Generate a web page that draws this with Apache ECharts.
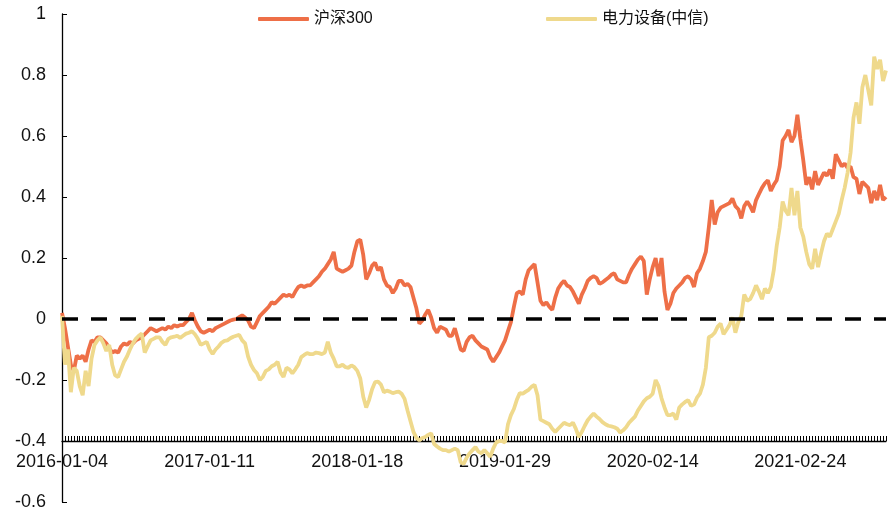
<!DOCTYPE html>
<html>
<head>
<meta charset="utf-8">
<script src="https://cdn.jsdelivr.net/npm/echarts@6/dist/echarts.min.js"></script>
<style>html,body{margin:0;padding:0;background:#fff}#c{width:896px;height:513px}</style>
</head>
<body>
<div id="c"></div>
<script>
// tick labels shown on x axis (every 50 weekly samples = 250 trading days)
var tickLabels = ['2016-01-04','2017-01-11','2018-01-18','2019-01-29','2020-02-14','2021-02-24'];
var seriesNames = ['沪深300','电力设备(中信)'];
var yTicks = {min: -0.6, max: 1, step: 0.2};
// 沪深300 cumulative return (sampled every 5 trading days)
var hs300 = [
0.02,-0.03,-0.09,-0.15,-0.17,-0.12,-0.13,-0.12,-0.14,-0.10,
-0.07,-0.075,-0.06,-0.06,-0.07,-0.08,-0.095,-0.11,-0.105,-0.11,
-0.09,-0.08,-0.085,-0.075,-0.08,-0.07,-0.065,-0.06,-0.05,-0.04,
-0.03,-0.035,-0.04,-0.035,-0.03,-0.035,-0.025,-0.03,-0.02,-0.025,
-0.02,-0.02,-0.01,0.0,0.02,-0.005,-0.025,-0.04,-0.045,-0.04,
-0.035,-0.04,-0.03,-0.025,-0.02,-0.015,-0.01,-0.005,-0.002,0.0,
0.006,0.012,0.005,-0.005,-0.025,-0.03,-0.01,0.01,0.02,0.03,
0.04,0.055,0.05,0.06,0.07,0.08,0.075,0.08,0.072,0.09,
0.105,0.11,0.105,0.11,0.11,0.12,0.13,0.14,0.155,0.165,
0.18,0.195,0.22,0.165,0.16,0.155,0.16,0.165,0.175,0.22,
0.255,0.26,0.21,0.13,0.15,0.175,0.185,0.16,0.17,0.13,
0.11,0.105,0.085,0.1,0.125,0.125,0.11,0.115,0.105,0.07,
0.035,-0.015,-0.005,0.015,0.03,0.005,-0.03,-0.045,-0.025,-0.03,
-0.035,-0.055,-0.055,-0.03,-0.065,-0.1,-0.105,-0.075,-0.06,-0.055,
-0.07,-0.08,-0.09,-0.095,-0.1,-0.125,-0.14,-0.125,-0.11,-0.09,
-0.07,-0.04,-0.01,0.04,0.085,0.09,0.08,0.13,0.16,0.17,
0.18,0.12,0.06,0.045,0.055,0.04,0.03,0.07,0.1,0.115,
0.125,0.11,0.105,0.09,0.07,0.05,0.08,0.1,0.125,0.135,
0.14,0.135,0.115,0.12,0.128,0.135,0.145,0.15,0.13,0.125,
0.12,0.12,0.145,0.165,0.18,0.195,0.205,0.19,0.08,0.13,
0.17,0.2,0.14,0.2,0.09,0.03,0.05,0.085,0.1,0.11,
0.12,0.135,0.14,0.13,0.105,0.15,0.165,0.19,0.22,0.3,
0.39,0.31,0.35,0.365,0.37,0.375,0.38,0.395,0.37,0.36,
0.33,0.37,0.385,0.37,0.35,0.39,0.41,0.43,0.445,0.455,
0.42,0.44,0.455,0.5,0.585,0.6,0.62,0.58,0.6,0.67,
0.59,0.52,0.44,0.465,0.425,0.485,0.44,0.46,0.48,0.47,
0.49,0.46,0.54,0.52,0.5,0.51,0.495,0.5,0.465,0.46,
0.41,0.45,0.44,0.43,0.38,0.42,0.39,0.44,0.39,0.4
];
// 电力设备(中信) cumulative return (sampled every 5 trading days)
var power = [
0.01,-0.15,-0.1,-0.24,-0.16,-0.17,-0.22,-0.25,-0.17,-0.22,
-0.13,-0.085,-0.07,-0.06,-0.08,-0.105,-0.085,-0.15,-0.185,-0.19,
-0.165,-0.14,-0.123,-0.1,-0.08,-0.065,-0.055,-0.048,-0.11,-0.09,
-0.07,-0.065,-0.06,-0.06,-0.075,-0.085,-0.065,-0.06,-0.058,-0.055,
-0.062,-0.055,-0.048,-0.045,-0.04,-0.05,-0.065,-0.085,-0.08,-0.075,
-0.1,-0.115,-0.1,-0.09,-0.078,-0.072,-0.07,-0.063,-0.058,-0.055,
-0.052,-0.07,-0.08,-0.123,-0.15,-0.167,-0.178,-0.2,-0.19,-0.17,
-0.165,-0.155,-0.15,-0.14,-0.175,-0.19,-0.16,-0.165,-0.178,-0.165,
-0.15,-0.125,-0.118,-0.112,-0.115,-0.115,-0.11,-0.112,-0.115,-0.11,
-0.075,-0.11,-0.13,-0.155,-0.155,-0.15,-0.158,-0.16,-0.152,-0.158,
-0.17,-0.195,-0.255,-0.29,-0.265,-0.23,-0.207,-0.205,-0.215,-0.24,
-0.235,-0.238,-0.243,-0.24,-0.238,-0.245,-0.262,-0.3,-0.335,-0.37,
-0.39,-0.398,-0.39,-0.387,-0.38,-0.375,-0.41,-0.418,-0.425,-0.43,
-0.43,-0.435,-0.43,-0.425,-0.43,-0.47,-0.475,-0.455,-0.44,-0.43,
-0.42,-0.435,-0.44,-0.43,-0.44,-0.452,-0.425,-0.405,-0.4,-0.4,
-0.405,-0.345,-0.315,-0.295,-0.265,-0.243,-0.245,-0.238,-0.232,-0.222,
-0.216,-0.25,-0.33,-0.335,-0.34,-0.345,-0.36,-0.37,-0.36,-0.35,
-0.34,-0.345,-0.348,-0.34,-0.36,-0.387,-0.37,-0.35,-0.332,-0.32,
-0.31,-0.32,-0.328,-0.338,-0.345,-0.35,-0.352,-0.355,-0.36,-0.372,
-0.365,-0.355,-0.34,-0.33,-0.32,-0.3,-0.285,-0.27,-0.26,-0.255,
-0.245,-0.2,-0.22,-0.26,-0.29,-0.315,-0.315,-0.31,-0.33,-0.29,
-0.28,-0.272,-0.266,-0.285,-0.28,-0.258,-0.245,-0.215,-0.16,-0.06,
-0.055,-0.045,-0.025,-0.015,-0.05,-0.035,-0.02,0.005,-0.045,-0.01,
0.01,0.08,0.06,0.065,0.085,0.11,0.09,0.065,0.1,0.085,
0.105,0.16,0.24,0.3,0.385,0.355,0.34,0.43,0.34,0.42,
0.3,0.27,0.22,0.18,0.165,0.23,0.17,0.215,0.255,0.28,
0.27,0.295,0.32,0.345,0.39,0.43,0.48,0.545,0.66,0.71,
0.64,0.76,0.8,0.75,0.7,0.86,0.82,0.85,0.78,0.815
];
var labelEvery = 50;
var categories = hs300.map(function (v, i) {
  return (i % labelEvery === 0 && tickLabels[i / labelEvery]) ? tickLabels[i / labelEvery] : String(i);
});

var FONT = "Arial, 'Liberation Sans', 'Noto Sans CJK SC', sans-serif";
var RED = '#EE6F47';
var YEL = '#EFD98C';
var chart = echarts.init(document.getElementById('c'), null, {renderer: 'canvas'});
var legendBase = {
  top: 6, itemWidth: 51, itemHeight: 4, icon: 'roundRect',
  textStyle: {fontSize: 16, color: '#111', fontFamily: FONT}
};
chart.setOption({
  animation: false,
  backgroundColor: '#fff',
  textStyle: {fontFamily: FONT},
  legend: [
    Object.assign({data: [seriesNames[0]], left: 253}, legendBase),
    Object.assign({data: [seriesNames[1]], left: 541}, legendBase)
  ],
  grid: {left: 62, right: 10, top: 14, bottom: 11, containLabel: false, outerBoundsMode: 'none'},
  xAxis: {
    type: 'category',
    data: categories,
    boundaryGap: false,
    offset: -61,
    axisLine: {show: true, onZero: false, lineStyle: {color: '#000', width: 1.3}},
    axisTick: {show: true, inside: true, length: 5, interval: 0, lineStyle: {color: '#000', width: 1}},
    axisLabel: {interval: labelEvery - 1, fontSize: 18, color: '#111', margin: 12, fontFamily: FONT},
    splitLine: {show: false}
  },
  yAxis: {
    type: 'value',
    min: yTicks.min, max: yTicks.max, interval: yTicks.step,
    axisLine: {show: true, lineStyle: {color: '#000', width: 1.3}},
    axisTick: {show: true, inside: true, length: 5, lineStyle: {color: '#000'}},
    axisLabel: {fontSize: 18, color: '#111', margin: 16, fontFamily: FONT,
      formatter: function (v) { return String(Math.round(v * 10) / 10); }},
    splitLine: {show: false}
  },
  series: [
    {name: seriesNames[0], type: 'line', data: hs300, showSymbol: false, symbol: 'none',
     lineStyle: {color: RED, width: 3.8}, itemStyle: {color: RED}, clip: false},
    {name: seriesNames[1], type: 'line', data: power, showSymbol: false, symbol: 'none',
     lineStyle: {color: YEL, width: 3.8}, itemStyle: {color: YEL}, clip: false,
     markLine: {silent: true, symbol: 'none', label: {show: false}, z: 10,
       lineStyle: {color: '#000', width: 3.5, type: [16, 13]},
       data: [{yAxis: 0}]}}
  ]
});
</script>
</body>
</html>
